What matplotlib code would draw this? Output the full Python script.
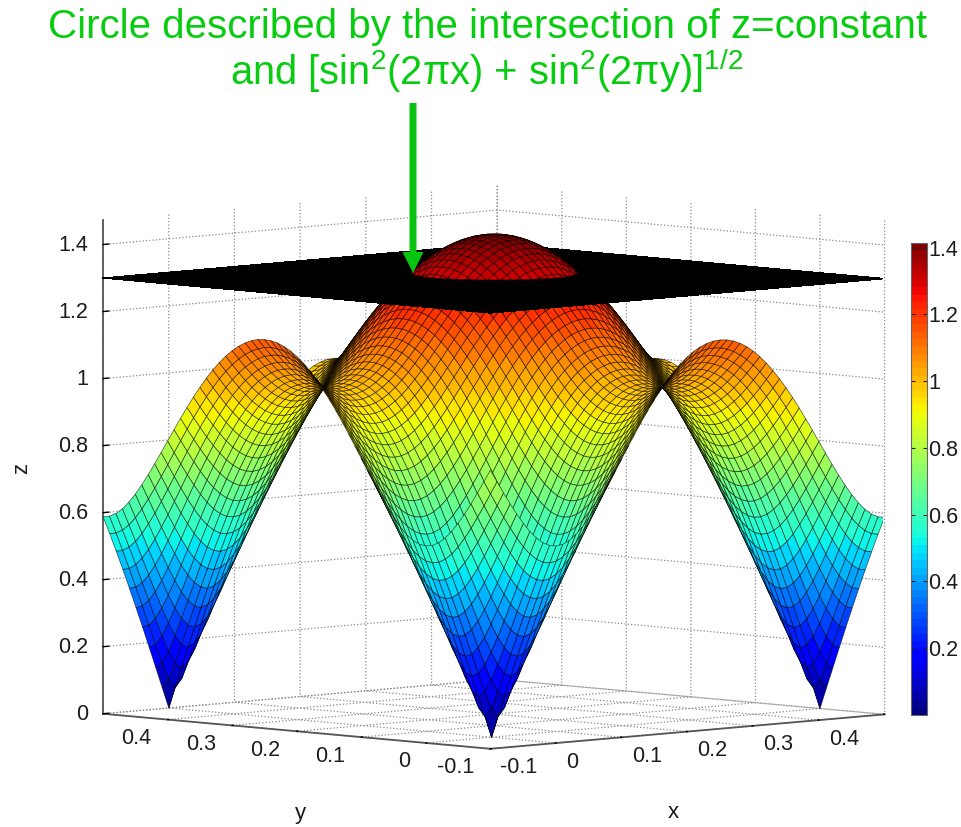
import numpy as np
import matplotlib
matplotlib.use("Agg")
import matplotlib.pyplot as plt
from matplotlib.cm import ScalarMappable
from matplotlib.colors import Normalize
from mpl_toolkits.mplot3d.art3d import Poly3DCollection
from mpl_toolkits.mplot3d import proj3d

W, H = 961, 827
plt.rcParams['font.family'] = ['Liberation Sans', 'DejaVu Sans']
plt.rcParams['mathtext.fontset'] = 'custom'
plt.rcParams['mathtext.rm'] = 'Liberation Sans'
plt.rcParams['mathtext.default'] = 'regular'

# The surface is the function that the chart's own annotation states.
x_edges = np.linspace(-0.1, 0.5, 61)
y_edges = np.linspace(-0.1, 0.5, 61)
plane_z = 1.3
x_ticks = [-0.1, 0, 0.1, 0.2, 0.3, 0.4, 0.5]
y_ticks = [-0.1, 0, 0.1, 0.2, 0.3, 0.4, 0.5]
tick_labels = ['-0.1', '0', '0.1', '0.2', '0.3', '0.4', '']
z_ticks = [0, 0.2, 0.4, 0.6, 0.8, 1, 1.2, 1.4]
z_tick_labels = ['0', '0.2', '0.4', '0.6', '0.8', '1', '1.2', '1.4']
cbar_ticks = [0.2, 0.4, 0.6, 0.8, 1, 1.2, 1.4]
cbar_labels = ['0.2', '0.4', '0.6', '0.8', '1', '1.2', '1.4']
title_lines = ['Circle described by the intersection of z=constant',
               'and [sin$^{2}$(2πx) + sin$^{2}$(2πy)]$^{1/2}$']

GREEN = '#08cc10'
TXT = '#1c1c1c'
TICK_FS = 15.5
fig = plt.figure(figsize=(W / 100, H / 100), dpi=100, facecolor='white')

side = 800
cx, cy = 483, 478
ax = fig.add_axes([(cx - side / 2) / W, (H - cy - side / 2) / H, side / W, side / H],
                  projection='3d', proj_type='ortho')
ax.patch.set_alpha(0)
ax.computed_zorder = False
ax.view_init(elev=5.1, azim=-134.5)
ax.set_xlim(-0.1, 0.5)
ax.set_ylim(-0.1, 0.5)
ax.set_zlim(0, 1.473)
ax.set_box_aspect((1, 1, 0.897), zoom=1.123)

X, Y = np.meshgrid(x_edges, y_edges)
Z = np.sqrt(np.sin(2 * np.pi * X) ** 2 + np.sin(2 * np.pi * Y) ** 2)
cmap = matplotlib.colormaps['jet'].resampled(64)
norm = Normalize(0, 1.414)


def cells(zz):
    c = np.stack([
        np.stack([X[:-1, :-1], Y[:-1, :-1], zz[:-1, :-1]], -1),
        np.stack([X[:-1, 1:], Y[:-1, 1:], zz[:-1, 1:]], -1),
        np.stack([X[1:, 1:], Y[1:, 1:], zz[1:, 1:]], -1),
        np.stack([X[1:, :-1], Y[1:, :-1], zz[1:, :-1]], -1)], axis=2)
    return c.reshape(-1, 4, 3)


def clip_above(poly, level):
    out = []
    for a, b in zip(poly, np.roll(poly, -1, axis=0)):
        if a[2] >= level:
            out.append(a)
        if (a[2] - level) * (b[2] - level) < 0:
            t = (level - a[2]) / (b[2] - a[2])
            out.append(a + t * (b - a))
    return np.array(out)


surf = cells(Z)
plane = cells(np.full_like(Z, plane_z))
max_z = surf[:, :, 2].max(axis=1)
below = surf[surf[:, :, 2].min(axis=1) < plane_z]
crossing_or_above = surf[max_z > plane_z]
above = [clip_above(p, plane_z) for p in crossing_or_above]
above_colors = cmap(norm(crossing_or_above[:, :, 2].mean(axis=1)))
EDGE = (0, 0, 0, 0.62)


def layer(polys, colors, edge, lw, order, aa=True):
    c = Poly3DCollection(polys, facecolors=colors, edgecolors=edge, linewidths=lw,
                         zsort='average', antialiased=aa, zorder=order)
    ax.add_collection3d(c)


layer(below, cmap(norm(below[:, :, 2].mean(axis=1))), EDGE, 0.55, 3)
layer(plane, cmap(norm(plane[:, :, 2].mean(axis=1))), 'black', 0.2, 4, aa=False)
layer(above, above_colors, EDGE, 0.55, 5)

ax.set_xticks(x_ticks)
ax.set_yticks(y_ticks)
ax.set_zticks(z_ticks)
ax.set_xticklabels([])
ax.set_yticklabels([])
ax.set_zticklabels([])
for a in (ax.xaxis, ax.yaxis, ax.zaxis):
    a.set_pane_color((1, 1, 1, 0))
    a.pane.set_edgecolor((1, 1, 1, 0))
    a.line.set_color('#555555')
    a.line.set_linewidth(1.3)
    a._axinfo['grid'].update(color='#8a8a8a', linestyle=':', linewidth=0.9)
    a._axinfo['tick'].update(inward_factor=0.0, outward_factor=0.03)
    a._axinfo['tick']['linewidth'] = {True: 1.0, False: 0.5}
    a._axinfo['tick']['color'] = '#555555'
ax.zaxis._axinfo['tick'].update(outward_factor=0.18)

cax = fig.add_axes([911 / W, (H - 715) / H, 16 / W, (715 - 243) / H])
cb = fig.colorbar(ScalarMappable(norm=norm, cmap=cmap), cax=cax, ticks=cbar_ticks)
cb.ax.set_yticklabels(cbar_labels, fontsize=TICK_FS, color=TXT)
cb.ax.tick_params(direction='in', length=3, width=0.8, pad=1, color='#222222', left=True)
cb.outline.set_edgecolor('#666666')

ov = fig.add_axes([0, 0, 1, 1], facecolor='none')
ov.set_xlim(0, W)
ov.set_ylim(H, 0)
ov.axis('off')


def to_px(px, py, pz):
    xs, ys, _ = proj3d.proj_transform(px, py, pz, ax.get_proj())
    dx, dy = ax.transData.transform((xs, ys))
    return dx, H - dy


for v, lab in zip(x_ticks, tick_labels):
    u, w = to_px(v, -0.1, 0)
    ov.text(u + 10, w + 19, lab, fontsize=TICK_FS, color=TXT, ha='left', va='center')
for v, lab in zip(y_ticks, tick_labels):
    u, w = to_px(-0.1, v, 0)
    ov.text(u - 16, w + 19, lab, fontsize=TICK_FS, color=TXT, ha='right', va='center')
for v, lab in zip(z_ticks, z_tick_labels):
    u, w = to_px(-0.1, 0.5, v)
    ov.text(u - 15, w + 1, lab, fontsize=TICK_FS, color=TXT, ha='right', va='center')

ov.arrow(413, 103, 0, 170, width=7, head_width=21, head_length=21,
         length_includes_head=True, color='#08c410', linewidth=0)
ov.text(488, 38, title_lines[0], fontsize=29, color=GREEN, ha='center', va='baseline')
ov.text(487, 85, title_lines[1], fontsize=28.7, color=GREEN, ha='center', va='baseline')
ov.text(300, 813, 'y', fontsize=16, color=TXT, ha='center', va='center')
ov.text(673, 813, 'x', fontsize=16, color=TXT, ha='center', va='center')
ov.text(22, 468, 'z', fontsize=16, color=TXT, ha='center', va='center', rotation=90)

fig.savefig('out.png', dpi=100)
